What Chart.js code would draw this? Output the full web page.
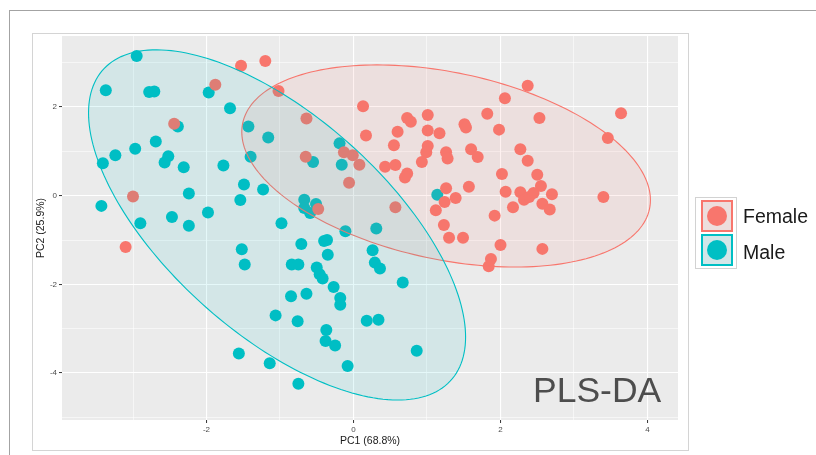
<!DOCTYPE html>
<html>
<head>
<meta charset="utf-8">
<script src="https://cdn.jsdelivr.net/npm/chart.js@4.4.1/dist/chart.umd.min.js"></script>
<style>
  html, body { margin: 0; padding: 0; background: #fff; }
  body { width: 816px; height: 455px; position: relative; overflow: hidden; font-family: "Liberation Sans", Arial, sans-serif; }
  #outer { position: absolute; left: 9px; top: 10px; width: 900px; height: 500px; border-left: 1.5px solid #a3a3a3; border-top: 1.5px solid #a3a3a3; }
  #plotBox { position: absolute; left: 32px; top: 33px; width: 655px; height: 416px; border: 1px solid #d4d4d4; background: #fff; }
  #chart { position: absolute; left: 0; top: 0; }
  #legendFrame { position: absolute; left: 695px; top: 197px; width: 42px; height: 72px; border: 1px solid #d2d2d2; box-sizing: border-box; background: #fff; }
  .key { position: absolute; left: 701px; width: 32px; height: 32px; box-sizing: border-box; border: 2px solid; }
  .dot { position: absolute; left: 4px; top: 4px; width: 20px; height: 20px; border-radius: 50%; }
  .lab { position: absolute; left: 743px; height: 20px; line-height: 20px; font-size: 19.5px; color: #1a1a1a; white-space: nowrap; }
  #tag { position: absolute; left: 533px; top: 372px; font-size: 35.5px; line-height: 36px; color: #4d4d4d; white-space: nowrap; }
</style>
</head>
<body>
<div id="outer"></div>
<div id="plotBox"></div>
<canvas id="chart" width="816" height="455"></canvas>
<div id="legendFrame"></div>
<div class="key" style="top:200px; border-color:#F8766D; background:#EDDEDD;"><span class="dot" style="background:#F8766D;"></span></div>
<div class="key" style="top:234px; border-color:#00BFC4; background:#D4E6E8;"><span class="dot" style="background:#00BFC4;"></span></div>
<div class="lab" style="top:206px;">Female</div>
<div class="lab" style="top:242px;">Male</div>
<div id="tag">PLS-DA</div>
<script>
// group names
const groups = ['Female', 'Male'];
const groupColors = ['#F8766D', '#00BFC4'];

// component scores, Female
const femaleX = [-2.44, -3.00, -3.10, -1.88, -1.53, -1.20, -1.02, -0.64, -0.65, -0.13, -0.01, 0.08, -0.06, -0.48, 0.13, 0.17, 0.73, 0.78, 1.01, 0.60, 1.01, 1.17, 0.55, 1.01, 0.99, 1.26, 1.28, 0.93, 0.43, 0.57, 0.73, 0.70, 1.51, 1.53, 1.82, 2.06, 2.37, 1.98, 2.53, 3.64, 3.46, 1.60, 1.69, 2.27, 2.37, 2.02, 2.50, 2.55, 1.26, 1.57, 1.39, 1.24, 1.12, 2.07, 2.27, 2.32, 2.39, 2.45, 2.17, 1.92, 2.57, 2.67, 2.70, 3.40, 0.57, 1.23, 1.30, 1.49, 2.00, 2.57, 1.87, 1.84];
const femaleY = [1.62, -0.02, -1.16, 2.50, 2.93, 3.04, 2.36, 1.74, 0.88, 0.98, 0.91, 0.70, 0.29, -0.30, 2.02, 1.36, 1.75, 1.67, 1.82, 1.44, 1.47, 1.41, 1.14, 1.12, 0.98, 0.98, 0.84, 0.76, 0.65, 0.69, 0.50, 0.41, 1.61, 1.54, 1.85, 2.20, 2.48, 1.49, 1.75, 1.86, 1.30, 1.05, 0.87, 1.05, 0.79, 0.49, 0.47, 0.22, 0.17, 0.20, -0.05, -0.14, -0.33, 0.09, 0.08, -0.09, -0.03, 0.06, -0.26, -0.45, -0.18, -0.31, 0.03, -0.03, -0.26, -0.66, -0.95, -0.95, -1.11, -1.20, -1.43, -1.59];

// component scores, Male
const maleX = [-2.95, -3.37, -2.78, -2.71, -1.97, -1.68, -2.39, -1.43, -1.16, -2.69, -2.97, -3.24, -3.41, -2.52, -2.57, -2.31, -1.77, -1.40, -1.49, -1.23, -1.54, -2.24, -3.43, -1.98, -2.47, -2.90, -2.24, -0.98, -0.19, -0.16, -0.55, -0.67, -0.51, -0.67, -0.59, -0.11, 0.31, -0.71, -0.40, -0.36, -0.35, -1.52, -1.48, -0.84, -0.75, -0.50, -0.46, -0.42, -0.27, 0.26, 0.29, 0.36, 0.67, -0.85, -0.64, -0.18, -0.18, -1.06, -0.76, 0.18, 0.34, -0.37, -0.38, -0.25, 0.86, -1.56, -1.14, -0.08, -0.75, 1.14];
const maleY = [3.15, 2.38, 2.34, 2.35, 2.33, 1.97, 1.56, 1.56, 1.31, 1.22, 1.06, 0.91, 0.73, 0.89, 0.75, 0.64, 0.68, 0.88, 0.25, 0.14, -0.10, 0.05, -0.23, -0.38, -0.48, -0.62, -0.68, -0.62, 1.18, 0.70, 0.76, -0.09, -0.19, -0.28, -0.39, -0.80, -0.74, -1.09, -1.02, -1.00, -1.33, -1.21, -1.55, -1.55, -1.55, -1.62, -1.77, -1.87, -2.06, -1.23, -1.51, -1.64, -1.96, -2.27, -2.21, -2.31, -2.46, -2.70, -2.83, -2.82, -2.80, -3.03, -3.28, -3.38, -3.50, -3.56, -3.78, -3.84, -4.24, 0.02];

// confidence ellipses (centre, half extents along x / y, phase between them)
const femaleEllipse = { cx: 1.26, cy: 0.67, rx: 2.78, ry: 2.28, phase: Math.acos(-0.337) };
const maleEllipse = { cx: -1.04, cy: -0.66, rx: 2.565, ry: 3.95, phase: Math.acos(-0.64) };

// axes
const xLabelTicks = [-2, 0, 2, 4];
const yLabelTicks = [-4, -2, 0, 2];
const xRange = [-3.966, 4.415];
const yRange = [-5.06, 3.602];

const toPoints = (xs, ys) => xs.map((v, i) => ({ x: v, y: ys[i] }));

const ellipses = [
    { e: femaleEllipse, color: groupColors[0], fill: 'rgba(248,118,109,0.10)' },
    { e: maleEllipse, color: groupColors[1], fill: 'rgba(0,191,196,0.10)' }
];

const panelPlugin = {
    id: 'panel',
    beforeDraw(chart) {
        const { ctx, chartArea: a } = chart;
        ctx.save();
        ctx.fillStyle = '#EBEBEB';
        ctx.fillRect(a.left, a.top, a.right - a.left, a.bottom - a.top);
        ctx.restore();
    },
    afterDatasetsDraw(chart) {
        const { ctx, chartArea: a } = chart;
        const xs = chart.scales.x;
        const ys = chart.scales.y;
        ctx.save();
        ctx.beginPath();
        ctx.rect(a.left, a.top, a.right - a.left, a.bottom - a.top);
        ctx.clip();
        ellipses.forEach(({ e, color, fill }) => {
            ctx.beginPath();
            const n = 200;
            for (let i = 0; i <= n; i++) {
                const t = (i / n) * Math.PI * 2;
                const px = xs.getPixelForValue(e.cx + e.rx * Math.cos(t));
                const py = ys.getPixelForValue(e.cy + e.ry * Math.cos(t + e.phase));
                if (i === 0) ctx.moveTo(px, py); else ctx.lineTo(px, py);
            }
            ctx.closePath();
            ctx.fillStyle = fill;
            ctx.fill();
            ctx.strokeStyle = color;
            ctx.lineWidth = 1.1;
            ctx.stroke();
        });
        ctx.restore();
    }
};

const isMajor = (c, list) => c.tick && list.includes(c.tick.value);

new Chart(document.getElementById('chart'), {
    type: 'scatter',
    data: {
        datasets: [{
            label: groups[0],
            data: toPoints(femaleX, femaleY),
            backgroundColor: groupColors[0],
            borderWidth: 0,
            pointRadius: 6,
            pointHoverRadius: 6
        }, {
            label: groups[1],
            data: toPoints(maleX, maleY),
            backgroundColor: groupColors[1],
            borderWidth: 0,
            pointRadius: 6,
            pointHoverRadius: 6
        }]
    },
    options: {
        responsive: false,
        animation: false,
        events: [],
        layout: { padding: { left: 30, top: 36, right: 138, bottom: 0 } },
        plugins: {
            legend: { display: false },
            tooltip: { enabled: false }
        },
        scales: {
            x: {
                type: 'linear',
                min: xRange[0],
                max: xRange[1],
                afterFit: (s) => { s.height = 35; },
                border: { display: false },
                grid: {
                    color: '#ffffff',
                    lineWidth: (c) => isMajor(c, xLabelTicks) ? 1.1 : 0.55,
                    tickColor: (c) => isMajor(c, xLabelTicks) ? '#333333' : 'rgba(0,0,0,0)',
                    tickWidth: 1,
                    tickLength: 3
                },
                ticks: {
                    stepSize: 1,
                    includeBounds: false,
                    autoSkip: false,
                    maxRotation: 0,
                    padding: 2,
                    color: '#4d4d4d',
                    font: { family: '"Liberation Sans", Arial, sans-serif', size: 8 },
                    callback: (v) => xLabelTicks.includes(v) ? String(v) : ''
                },
                title: {
                    display: true,
                    text: 'PC1 (68.8%)',
                    color: '#1a1a1a',
                    padding: { top: 0, bottom: 8 },
                    font: { family: '"Liberation Sans", Arial, sans-serif', size: 10.5 }
                }
            },
            y: {
                type: 'linear',
                min: yRange[0],
                max: yRange[1],
                afterFit: (s) => { s.width = 32; },
                border: { display: false },
                grid: {
                    color: '#ffffff',
                    lineWidth: (c) => isMajor(c, yLabelTicks) ? 1.1 : 0.55,
                    tickColor: (c) => isMajor(c, yLabelTicks) ? '#333333' : 'rgba(0,0,0,0)',
                    tickWidth: 1,
                    tickLength: 3
                },
                ticks: {
                    stepSize: 1,
                    includeBounds: false,
                    autoSkip: false,
                    padding: 2,
                    color: '#4d4d4d',
                    font: { family: '"Liberation Sans", Arial, sans-serif', size: 8 },
                    callback: (v) => yLabelTicks.includes(v) ? String(v) : ''
                },
                title: {
                    display: true,
                    text: 'PC2 (25.9%)',
                    color: '#1a1a1a',
                    padding: { top: 5, bottom: 0 },
                    font: { family: '"Liberation Sans", Arial, sans-serif', size: 10.5 }
                }
            }
        }
    },
    plugins: [panelPlugin]
});
</script>
</body>
</html>
